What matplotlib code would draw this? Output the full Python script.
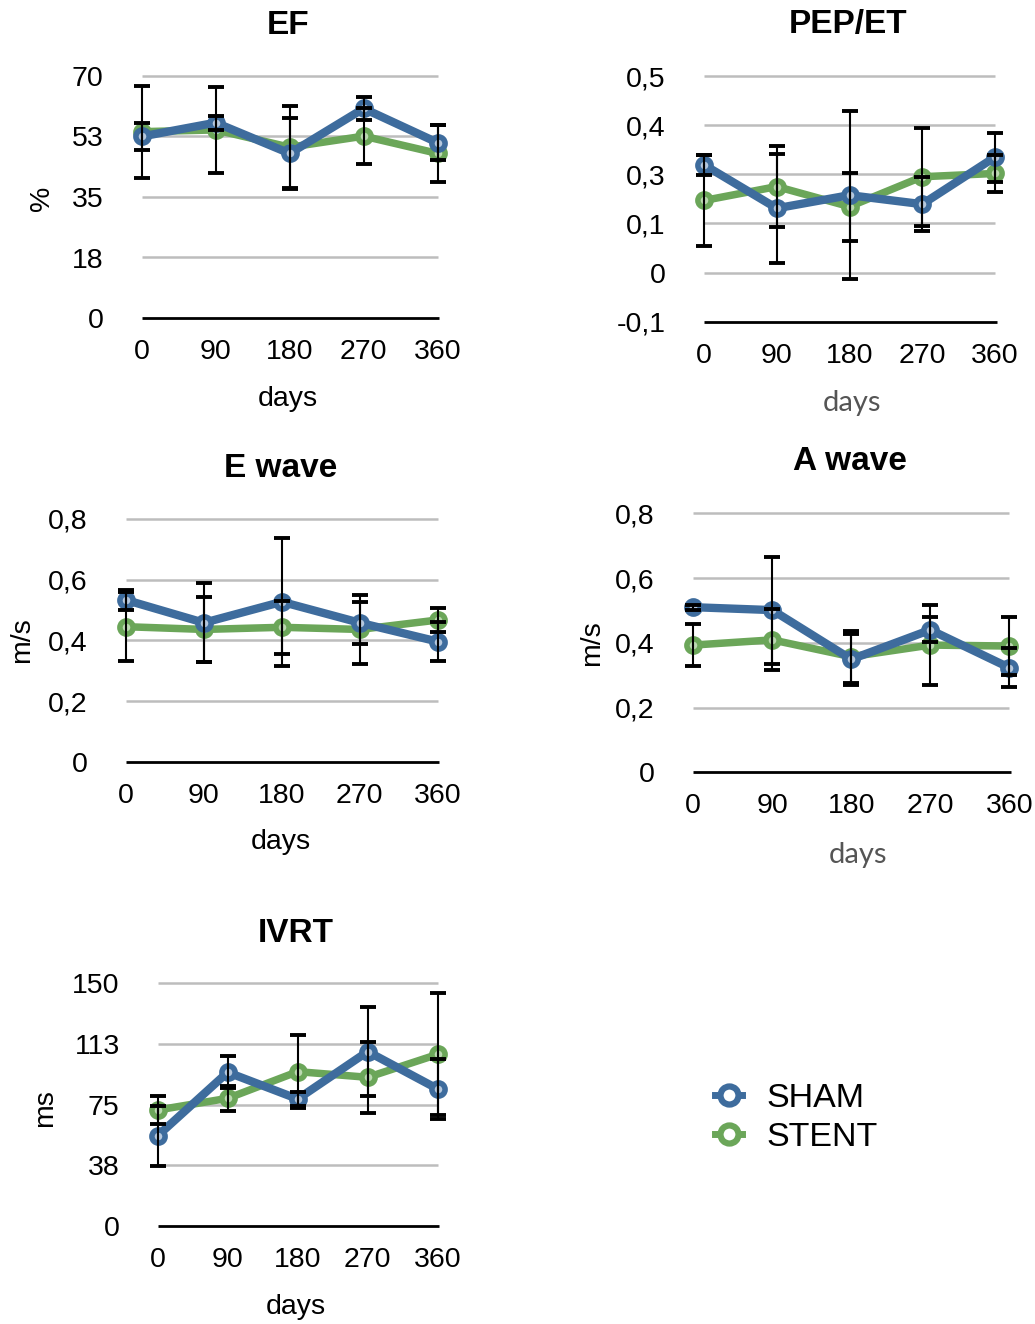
import matplotlib
matplotlib.use('Agg')
import matplotlib.pyplot as plt
from matplotlib.lines import Line2D

plt.rcParams['font.family'] = ['Liberation Sans', 'DejaVu Sans']

W, H = 1035, 1324
days = [0, 90, 180, 270, 360]
blue = '#3E6C9D'
green = '#6BA659'

# EF (%)
ef_sham = [52.5, 56.5, 47.6, 60.6, 50.7]
ef_sham_err = [4, 2, 10.3, 3.2, 5]
ef_stent = [53.9, 54.4, 49.4, 52.6, 47.6]
ef_stent_err = [13.3, 12.5, 11.8, 8, 8.3]
ef_ticks = [0, 17.5, 35, 52.5, 70]
ef_labels = ['0', '18', '35', '53', '70']

# PEP/ET
pep_sham = [0.283, 0.177, 0.209, 0.187, 0.302]
pep_sham_err = [0.025, 0.133, 0.205, 0.066, 0.06]
pep_stent = [0.196, 0.230, 0.181, 0.254, 0.262]
pep_stent_err = [0.11, 0.098, 0.083, 0.12, 0.045]
pep_ticks = [-0.1, 0.02, 0.14, 0.26, 0.38, 0.5]
pep_labels = ['-0,1', '0', '0,1', '0,3', '0,4', '0,5']

# E wave (m/s)
e_sham = [0.533, 0.458, 0.527, 0.458, 0.396]
e_sham_err = [0.033, 0.13, 0.21, 0.069, 0.063]
e_stent = [0.445, 0.436, 0.443, 0.436, 0.467]
e_stent_err = [0.113, 0.106, 0.087, 0.115, 0.04]
wave_ticks = [0, 0.2, 0.4, 0.6, 0.8]
wave_labels = ['0', '0,2', '0,4', '0,6', '0,8']

# A wave (m/s)
a_sham = [0.510, 0.501, 0.349, 0.440, 0.323]
a_sham_err = [0.008, 0.165, 0.078, 0.039, 0.06]
a_stent = [0.393, 0.409, 0.357, 0.393, 0.390]
a_stent_err = [0.064, 0.094, 0.08, 0.124, 0.089]

# IVRT (ms)
ivrt_sham = [55.8, 95.0, 78.5, 107.8, 84.7]
ivrt_sham_err = [18.5, 10, 4.5, 27.5, 18.3]
ivrt_stent = [71.7, 78.9, 95.4, 91.9, 106.1]
ivrt_stent_err = [8.8, 7.9, 22.7, 21.8, 37.7]
ivrt_ticks = [0, 37.5, 75, 112.5, 150]
ivrt_labels = ['0', '38', '75', '113', '150']

fig = plt.figure(figsize=(W / 100, H / 100), dpi=100)


def panel(x0, x1, ytop, ybot, sham, sham_err, stent, stent_err, ticks, labels,
          title, tpos, ylabel, ypos, dpos, gill):
    m = 6
    sx = (x1 - x0) / 360
    left = x0 - m * sx
    right = x1 + m * sx
    ax = fig.add_axes([left / W, 1 - ybot / H, (right - left) / W, (ybot - ytop) / H])
    ax.set_xlim(-m, 360 + m)
    ax.set_ylim(ticks[0], ticks[-1])
    for s in ax.spines.values():
        s.set_visible(False)
    ax.hlines(ticks[1:], 0, 360, color='#BDBDBD', lw=1.8, zorder=1, clip_on=False)
    ax.hlines(ticks[0], 0, 362, color='black', lw=2.0, zorder=1, clip_on=False)
    ax.plot(days, stent, color=green, lw=5.4, marker='o', ms=9.5, mew=4,
            mfc='#bcd9b2', mec=green, zorder=3, clip_on=False)
    ax.plot(days, sham, color=blue, lw=6, marker='o', ms=9.5, mew=4,
            mfc='#b6c8dd', mec=blue, zorder=4, clip_on=False)
    for v, e in ((stent, stent_err), (sham, sham_err)):
        eb = ax.errorbar(days, v, yerr=e, fmt='none', ecolor='black', elinewidth=1.5,
                         capsize=5.5, capthick=2.8, zorder=5)
        for a in eb.lines[1]:
            a.set_clip_on(False)
        for a in eb.lines[2]:
            a.set_clip_on(False)
    ax.set_xticks(days)
    ax.set_xticklabels([str(d) for d in days])
    ax.set_yticks(ticks)
    ax.set_yticklabels(labels)
    ax.tick_params(length=0, labelsize=20.5, colors='black')
    ax.tick_params(axis='x', pad=15)
    ax.tick_params(axis='y', pad=24)
    fig.text(tpos[0] / W, 1 - tpos[1] / H, title, ha='center', va='center',
             fontsize=24, fontweight='bold')
    if ylabel:
        fig.text(ypos[0] / W, 1 - ypos[1] / H, ylabel, ha='center', va='center',
                 fontsize=20.5, rotation=90)
    if gill:
        fig.text(dpos[0] / W, 1 - dpos[1] / H, 'days', ha='center', va='center',
                 fontsize=21, color='#555555', family=['Lato', 'DejaVu Sans'])
    else:
        fig.text(dpos[0] / W, 1 - dpos[1] / H, 'days', ha='center', va='center',
                 fontsize=20.5)
    return ax


panel(141.7, 437.7, 76, 318, ef_sham, ef_sham_err, ef_stent, ef_stent_err,
      ef_ticks, ef_labels, 'EF', (288, 25), '%', (42, 198), (288, 399), False)
panel(704, 995, 76, 321.7, pep_sham, pep_sham_err, pep_stent, pep_stent_err,
      pep_ticks, pep_labels, 'PEP/ET', (848, 25), None, None, (852, 403), True)
panel(126, 437.7, 519, 761.7, e_sham, e_sham_err, e_stent, e_stent_err,
      wave_ticks, wave_labels, 'E wave', (281, 468), 'm/s', (22, 640), (281, 842), False)
panel(693.3, 1009.3, 513.3, 772.3, a_sham, a_sham_err, a_stent, a_stent_err,
      wave_ticks, wave_labels, 'A wave', (850, 462), 'm/s', (592, 643), (858, 855), True)
panel(157.7, 437.7, 983.3, 1226, ivrt_sham, ivrt_sham_err, ivrt_stent, ivrt_stent_err,
      ivrt_ticks, ivrt_labels, 'IVRT', (296, 933), 'ms', (45, 1108), (296, 1307), False)

handles = [
    Line2D([], [], color=blue, lw=5, marker='o', ms=13, mew=4.5, mfc='white', mec=blue),
    Line2D([], [], color=green, lw=5, marker='o', ms=13, mew=4.5, mfc='white', mec=green),
]
fig.legend(handles, ['SHAM', 'STENT'], loc='center left',
           bbox_to_anchor=(698 / W, 1 - 1118 / H), frameon=False, fontsize=24.5,
           handlelength=0.8, handletextpad=0.7, labelspacing=0.25, borderpad=0)

fig.savefig('out.png', dpi=100)
